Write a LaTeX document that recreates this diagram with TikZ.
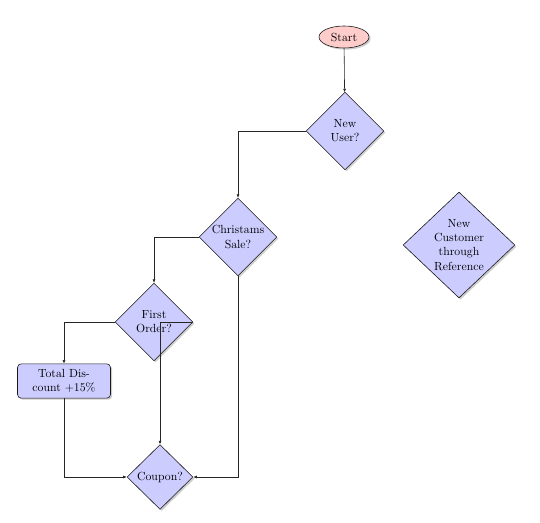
\documentclass[tikz,border=0pt]{standalone}
\usetikzlibrary{shapes.geometric,shadows,arrows.meta}
\begin{document}
\begin{tikzpicture}[x=0.85pt,y=-0.85pt,
  shad/.style={drop shadow={shadow xshift=1.4pt,shadow yshift=-1.4pt,opacity=0.4}},
  decision/.style={diamond,draw=black!90,line width=0.5pt,fill=blue!20,shad,inner sep=0pt,align=center},
  blockbox/.style={rectangle,draw=black!90,line width=0.5pt,fill=blue!20,shad,rounded corners=3pt,align=center,minimum width=79pt,minimum height=29pt,inner sep=1pt},
  startbox/.style={ellipse,draw=black!90,line width=0.5pt,fill=red!20,shad,minimum width=42.5pt,minimum height=18.7pt,inner sep=0pt},
  arr/.style={draw=black!85,line width=0.5pt,-{Latex[length=3pt,width=2.5pt]}}]
\useasboundingbox (0,0) rectangle (540,523);
\node[startbox] (start) at (344,37) {Start};
\node[decision,minimum width=66pt,minimum height=66pt] (nu) at (345,131) {New\\User?};
\node[decision,minimum width=66pt,minimum height=66pt] (cs) at (238,237) {Christams\\Sale?};
\node[decision,minimum width=66pt,minimum height=66pt] (fo) at (154,322) {First\\Order?};
\node[blockbox] (td) at (64,381) {Total Dis-\\count $+15\%$};
\node[decision,minimum width=56pt,minimum height=55pt] (cp) at (160,477) {Coupon?};
\node[decision,minimum width=95pt,minimum height=90pt] (nc) at (459,245) {New\\Customer\\through\\Reference};
\draw[arr] (start) -- (nu);
\draw[arr] (nu.west) -| (cs.north);
\draw[arr] (cs.west) -| (fo.north);
\draw[arr] (fo.west) -| (td.north);
\draw[arr] (fo.east) -| (cp.north);
\draw[arr] (td.south) |- (cp.west);
\draw[arr] (cs.south) |- (cp.east);
\end{tikzpicture}
\end{document}
